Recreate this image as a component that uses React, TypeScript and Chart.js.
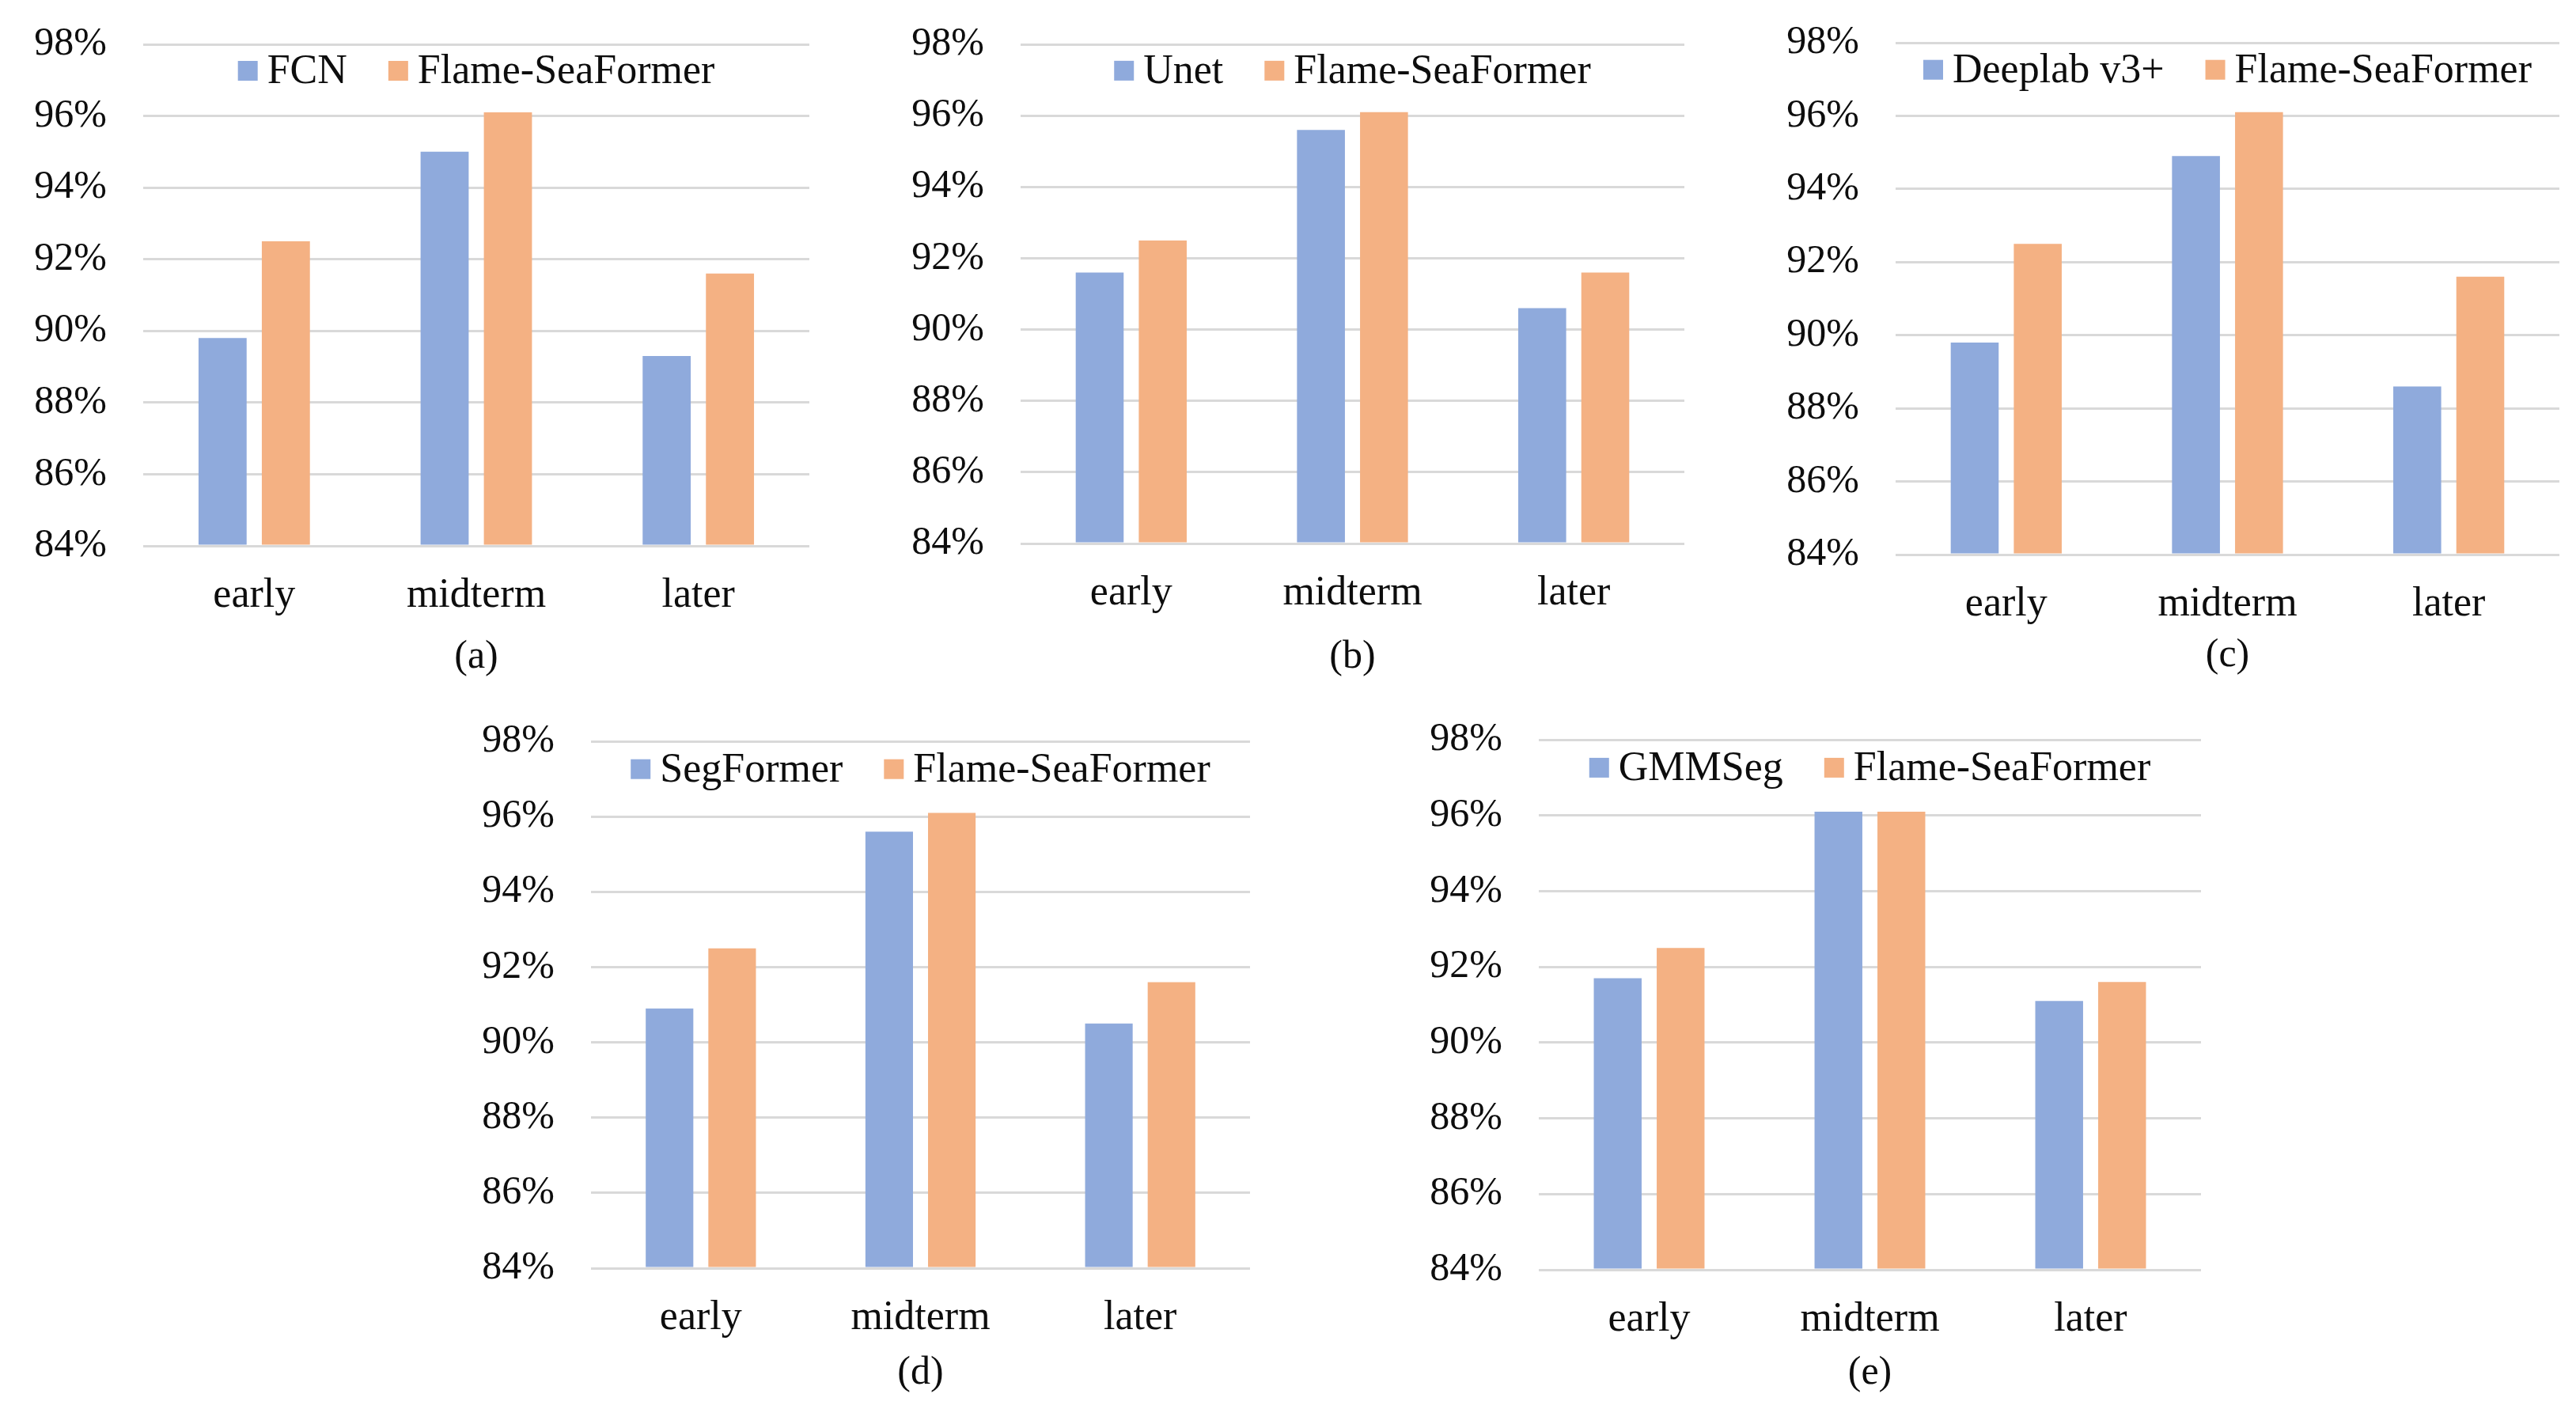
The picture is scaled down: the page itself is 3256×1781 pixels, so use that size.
import React, { useEffect, useRef } from 'react';
import { Chart, registerables } from 'chart.js';

Chart.register(...registerables);

// ---------- data ----------
const categories = ['early', 'midterm', 'later'];
const flameSeaFormer = [92.5, 96.1, 91.6];
const fcn = [89.8, 95.0, 89.3];
const unet = [91.6, 95.6, 90.6];
const deeplabV3Plus = [89.8, 94.9, 88.6];
const segFormer = [90.9, 95.6, 90.5];
const gmmSeg = [91.7, 96.1, 91.1];
const oursName = 'Flame-SeaFormer';
const baselineNames = ['FCN', 'Unet', 'Deeplab v3+', 'SegFormer', 'GMMSeg'];
const baselineSeries = [fcn, unet, deeplabV3Plus, segFormer, gmmSeg];
const panelLabels = ['(a)', '(b)', '(c)', '(d)', '(e)'];
const yMin = 84;
const yMax = 98;
const yStep = 2;

// ---------- layout / style ----------
const BOXES = [
  { l: 181, t: 56, r: 1023, b: 690, title: 141 },
  { l: 1290, t: 56, r: 2129, b: 687, title: 144 },
  { l: 2396, t: 54, r: 3235, b: 701, title: 128 },
  { l: 747, t: 937, r: 1580, b: 1603, title: 133 },
  { l: 1945, t: 935, r: 2782, b: 1605, title: 131 },
];
const YW = 160;
const PT = 40;
const PR = 10;
const XH = 90;
const FONT = 50;
const XFONT = 52;
const LFONT = 52;
const LH = 60;
const TITLE_PB = 10;
const FAMILY = '"Liberation Serif", "Times New Roman", serif';
const BLUE = '#8FAADC';
const ORANGE = '#F4B183';
const GRID = '#D9D9D9';
const TEXT = '#0d0d0d';

const innerLegend = {
  id: 'innerLegend',
  afterDraw(chart: any) {
    const { ctx, chartArea } = chart;
    const ys = chart.scales.y;
    const top = ys.getPixelForValue(yMax);
    const cy = top + 0.37 * (ys.getPixelForValue(yMax - yStep) - top);
    ctx.save();
    ctx.font = `${LFONT}px ${FAMILY}`;
    const items = chart.data.datasets.map((ds: any) => ({
      label: ds.label,
      color: ds.backgroundColor,
      w: ctx.measureText(ds.label).width,
    }));
    const SQ = 25, SG = 12, IG = 52;
    const total = items.reduce((a: number, it: any) => a + SQ + SG + it.w, 0) + IG * (items.length - 1);
    let x = (chartArea.left + chartArea.right) / 2 - total / 2;
    ctx.textBaseline = 'middle';
    ctx.textAlign = 'left';
    items.forEach((it: any) => {
      ctx.fillStyle = it.color;
      ctx.fillRect(x, cy - SQ / 2, SQ, SQ);
      x += SQ + SG;
      ctx.fillStyle = TEXT;
      ctx.fillText(it.label, x, cy + 2);
      x += it.w + IG;
    });
    ctx.restore();
  },
};

function Panel({ index }: { index: number }) {
  const ref = useRef<HTMLCanvasElement | null>(null);
  const box = BOXES[index];
  const padTop = box.title - XH - LH / 2;
  const width = YW + (box.r - box.l) + PR;
  const height = PT + (box.b - box.t) + XH + padTop + LH + TITLE_PB;

  useEffect(() => {
    if (!ref.current) return;
    const chart = new Chart(ref.current, {
      type: 'bar',
      data: {
        labels: categories,
        datasets: [
          { label: baselineNames[index], data: baselineSeries[index], backgroundColor: BLUE },
          { label: oursName, data: flameSeaFormer, backgroundColor: ORANGE },
        ],
      },
      options: {
        animation: false,
        responsive: true,
        maintainAspectRatio: false,
        layout: { padding: { top: PT, right: PR, left: 0, bottom: 0 } },
        datasets: {
          bar: { categoryPercentage: 0.57, barPercentage: 0.76, base: yMin, borderWidth: 0 },
        },
        plugins: {
          legend: { display: false },
          tooltip: { enabled: false },
          title: {
            display: true,
            text: panelLabels[index],
            position: 'bottom',
            fullSize: false,
            color: TEXT,
            font: { size: FONT, family: FAMILY, weight: 'normal', lineHeight: 1.2 },
            padding: { top: padTop, bottom: TITLE_PB },
          },
        },
        scales: {
          x: {
            grid: { display: false, drawTicks: false },
            border: { display: false },
            ticks: { color: TEXT, font: { size: XFONT, family: FAMILY }, padding: 32, maxRotation: 0 },
            afterFit: (s: any) => {
              s.height = XH;
              s.paddingLeft = 0;
              s.paddingRight = 0;
            },
          },
          y: {
            min: yMin,
            max: yMax,
            grid: { color: GRID, lineWidth: 3, drawTicks: false },
            border: { display: false },
            ticks: {
              stepSize: yStep,
              color: TEXT,
              font: { size: FONT, family: FAMILY },
              padding: 46,
              callback: (v: any) => v + '%',
            },
            afterFit: (s: any) => {
              s.width = YW;
              s.paddingTop = 0;
              s.paddingBottom = 0;
            },
          },
        },
      } as any,
      plugins: [innerLegend],
    });
    return () => chart.destroy();
  }, [index]);

  return (
    <div style={{ position: 'absolute', left: box.l - YW, top: box.t - PT, width, height }}>
      <canvas ref={ref} />
    </div>
  );
}

export default function App() {
  return (
    <div>
      {BOXES.map((_, i) => (
        <Panel key={i} index={i} />
      ))}
    </div>
  );
}
